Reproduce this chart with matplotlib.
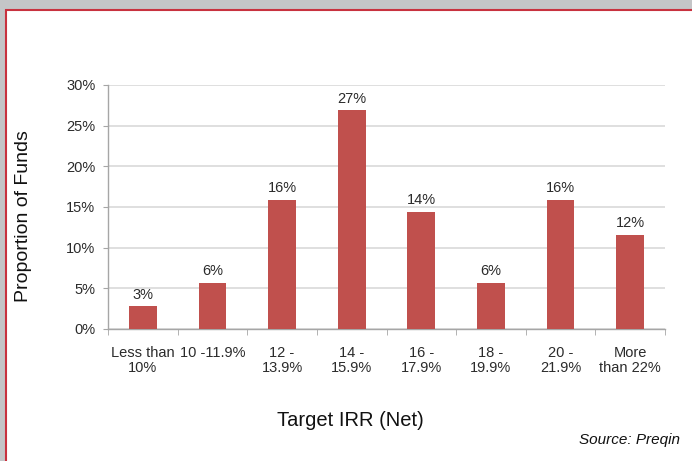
import matplotlib
matplotlib.use("Agg")
import matplotlib.pyplot as plt
from matplotlib.patches import Rectangle
from matplotlib.ticker import FuncFormatter, MultipleLocator

categories = ["Less than\n10%", "10 -11.9%", "12 -\n13.9%", "14 -\n15.9%",
              "16 -\n17.9%", "18 -\n19.9%", "20 -\n21.9%", "More\nthan 22%"]
values = [2.8, 5.7, 15.9, 26.9, 14.4, 5.7, 15.9, 11.6]
labels = ["3%", "6%", "16%", "27%", "14%", "6%", "16%", "12%"]

plt.rcParams['font.family'] = ['Liberation Sans', 'DejaVu Sans']

W, H = 692, 461
fig = plt.figure(figsize=(W / 100, H / 100), dpi=100)
fig.patch.set_facecolor('#C4C5C7')

# white panel with red border (extends off right/bottom)
fig.add_artist(Rectangle((6 / W, -0.05), 1.1, 1 - 10 / H + 0.05, transform=fig.transFigure,
                         facecolor='white', edgecolor='#C8323F', linewidth=1.5, zorder=0))

ax = fig.add_axes([108 / W, 1 - 329 / H, (665 - 108) / W, (329 - 85) / H])
ax.set_facecolor('white')
x = list(range(len(categories)))
ax.bar(x, values, width=0.4, color='#C0504D', zorder=3)
for xi, v, lab in zip(x, values, labels):
    ax.text(xi, v + 0.55, lab, ha='center', va='bottom', fontsize=10.5, color='#2b2b2b')

ax.set_xlim(-0.5, len(categories) - 0.5)
ax.set_ylim(0, 30)
ax.yaxis.set_major_locator(MultipleLocator(5))
ax.yaxis.set_major_formatter(FuncFormatter(lambda v, p: f"{int(v)}%"))
ax.grid(axis='y', color='#D9D9D9', linewidth=1.2, zorder=0)
ax.set_axisbelow(True)

for s in ['top', 'right']:
    ax.spines[s].set_visible(False)
for s in ['left', 'bottom']:
    ax.spines[s].set_color('#A6A6A6')
    ax.spines[s].set_linewidth(1.0)

ax.set_xticks(x)
ax.set_xticklabels(categories, fontsize=10.5, color='#2b2b2b', linespacing=1.15)
ax.tick_params(axis='x', length=0, pad=12)
ax.set_xticks([i + 0.5 for i in range(-1, len(categories))], minor=True)
ax.tick_params(axis='x', which='minor', length=4, color='#A6A6A6')
ax.tick_params(axis='y', length=3.6, color='#A6A6A6', labelsize=10.5, labelcolor='#2b2b2b', pad=5.5)

fig.text(24 / W, 1 - 216 / H, "Proportion of Funds", rotation=90, ha='center', va='center',
         fontsize=14, color='#111111')
fig.text(350 / W, 1 - 420 / H, "Target IRR (Net)", ha='center', va='center',
         fontsize=14.5, color='#111111')
fig.text(680 / W, 1 - 440 / H, "Source: Preqin", ha='right', va='center',
         fontsize=11, style='italic', color='#111111')

fig.savefig("out.png", dpi=100, facecolor=fig.get_facecolor())
